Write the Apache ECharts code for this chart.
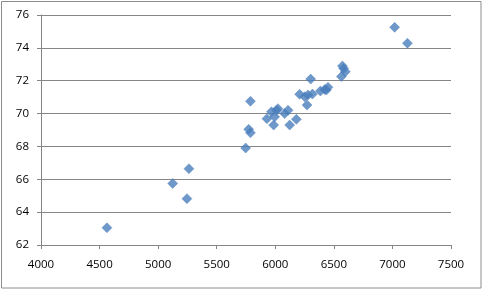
<!DOCTYPE html>
<html>
<head>
<meta charset="utf-8">
<script src="https://cdn.jsdelivr.net/npm/echarts@6/dist/echarts.min.js"></script>
<style>
html,body{margin:0;padding:0;background:#fff;}
#chart{width:484px;height:291px;}
</style>
</head>
<body>
<div id="chart"></div>
<script>
// Data
const xValues = [4563, 5124, 5263, 5246, 5747, 5773, 5788, 5788,
  5929, 5967, 5986, 5995, 6010, 6023, 6080, 6109, 6123, 6180,
  6208, 6251, 6271, 6279, 6317, 6302, 6385, 6422, 6436, 6450,
  6564, 6573, 6584, 6598, 7019, 7128];
const yValues = [63.05, 65.75, 66.64, 64.82, 67.9, 69.04, 68.83, 70.75,
  69.69, 70.11, 69.3, 69.8, 70.2, 70.3, 70.0, 70.2, 69.3, 69.65,
  71.17, 71.03, 70.52, 71.13, 71.19, 72.1, 71.37, 71.47, 71.43, 71.6,
  72.25, 72.9, 72.75, 72.55, 75.25, 74.28];
const xTicks = [4000, 4500, 5000, 5500, 6000, 6500, 7000, 7500];
const yTicks = [62, 64, 66, 68, 70, 72, 74, 76];

const points = xValues.map((x, i) => [x, yValues[i]]);

const chart = echarts.init(document.getElementById('chart'), null, {renderer: 'canvas'});
chart.setOption({
  animation: false,
  backgroundColor: '#ffffff',
  graphic: [{
    type: 'rect',
    shape: {x: 1.5, y: 1.5, width: 479.5, height: 286.5},
    style: {fill: 'none', stroke: '#8c8c8c', lineWidth: 1},
    silent: true
  }],
  grid: {left: 41, right: 33, top: 15, bottom: 46, containLabel: false},
  xAxis: {
    type: 'value',
    min: xTicks[0],
    max: xTicks[xTicks.length - 1],
    interval: 500,
    axisLine: {show: true, lineStyle: {color: '#868686', width: 1}},
    axisTick: {show: true, length: 4, lineStyle: {color: '#868686'}},
    splitLine: {show: false},
    axisLabel: {
      margin: 14, color: '#000', fontSize: 11.5,
      fontFamily: 'Open Sans, DejaVu Sans, sans-serif',
      formatter: v => String(v)
    }
  },
  yAxis: {
    type: 'value',
    min: yTicks[0],
    max: yTicks[yTicks.length - 1],
    interval: 2,
    axisLine: {show: true, lineStyle: {color: '#868686', width: 1}},
    axisTick: {show: true, length: 4, lineStyle: {color: '#868686'}},
    splitLine: {show: true, lineStyle: {color: '#868686', width: 1}},
    axisLabel: {
      margin: 12, color: '#000', fontSize: 11.5,
      fontFamily: 'Open Sans, DejaVu Sans, sans-serif',
      formatter: v => String(v)
    }
  },
  series: [{
    type: 'scatter',
    data: points,
    symbol: 'diamond',
    symbolSize: 10,
    itemStyle: {color: '#4A7EBB', borderColor: '#4A7EBB', borderWidth: 0.5}
  }]
});
</script>
</body>
</html>
